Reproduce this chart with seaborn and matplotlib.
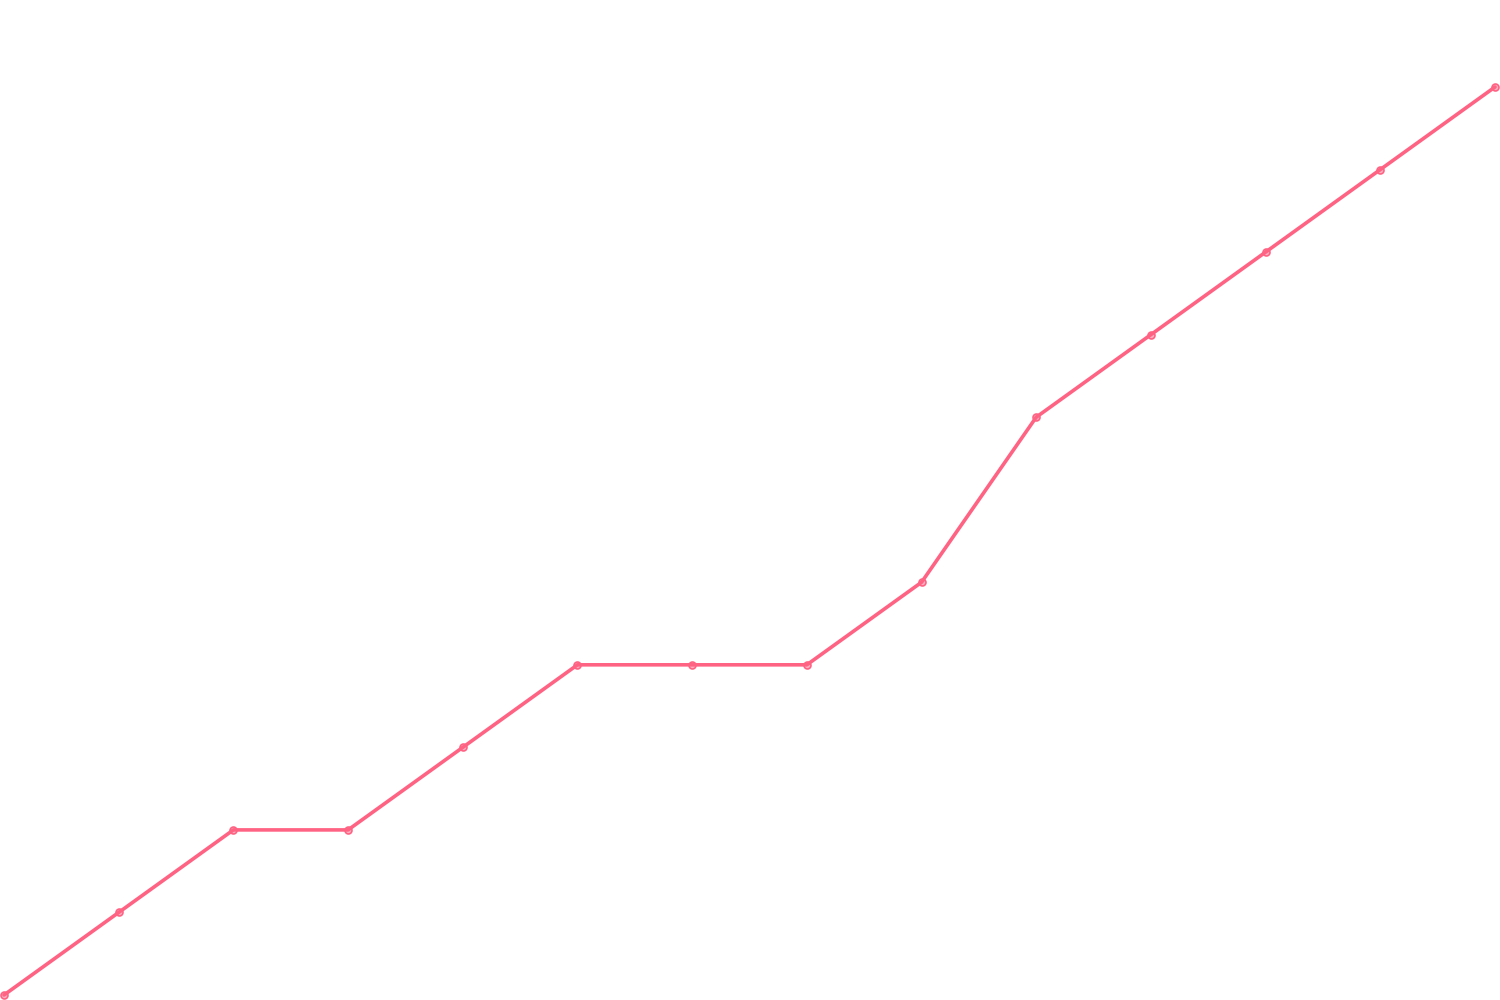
import matplotlib
matplotlib.use("Agg")
import matplotlib.pyplot as plt
import seaborn as sns
import pandas as pd

steps = list(range(14))
values = [0, 1, 2, 2, 3, 4, 4, 4, 5, 7, 8, 9, 10, 11]

df = pd.DataFrame({"step": steps, "value": values})

sns.set_theme(style="white")
fig = plt.figure(figsize=(15, 10), dpi=100)
ax = fig.add_axes([0, 0, 1, 1])
sns.lineplot(data=df, x="step", y="value", ax=ax, color="#ff6384", linewidth=2.6,
             marker="o", markersize=5, markerfacecolor=(1, 0.39, 0.52, 0.5),
             markeredgecolor="#ff6384", markeredgewidth=1.2)
ax.set_xlim(-4 / 114.69, 13 + 5 / 114.69)
ax.set_ylim(-5 / 82.545, 11 + 87 / 82.545)
ax.axis("off")
fig.savefig("out.png", dpi=100, facecolor="white")
